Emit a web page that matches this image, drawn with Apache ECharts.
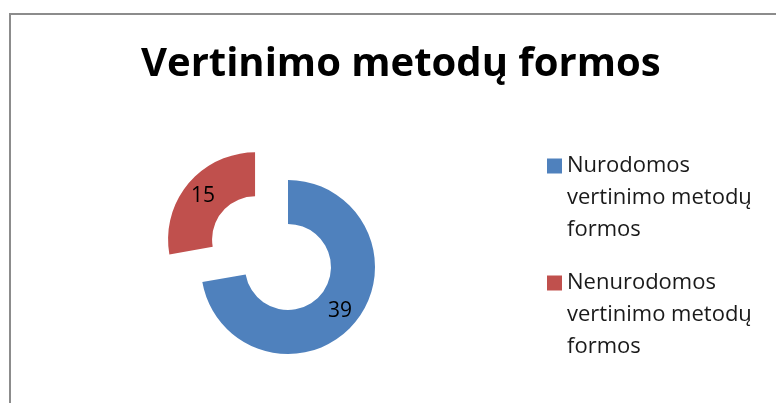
<!DOCTYPE html>
<html lang="lt">

<head>
    <meta charset="UTF-8">
    <title>Vertinimo metodų formos</title>
    <style>
        html,
        body,
        #chart {
            margin: 0;
            padding: 0;
            overflow: hidden;
            width: 100%;
            height: 100%;
            background: #fff;
        }
    </style>
</head>

<body>
    <div id="chart"></div>
    <script src="https://cdn.jsdelivr.net/npm/echarts@6/dist/echarts.min.js"></script>
    <script>
        var titleText = "Vertinimo metodų formos";
        var categories = ["Nurodomos vertinimo metodų formos", "Nenurodomos vertinimo metodų formos"];
        var values = [39, 15];
        var colors = ["#4F81BD", "#C0504D"];

        var font = "'Open Sans', sans-serif";

        var chart = echarts.init(document.getElementById('chart'));

        // legend text is split over 3 lines like in the original;
        // two blank lines in front keep the first line next to the icon
        function wrapName(name) {
            return '\n\n' + name.replace(' ', '\n').replace(' formos', '\nformos');
        }

        function makeLegend(name, top) {
            return {
                orient: 'vertical',
                left: 547,
                top: top,
                padding: 0,
                itemWidth: 15,
                itemHeight: 15,
                icon: 'rect',
                selectedMode: false,
                data: [name],
                formatter: wrapName,
                textStyle: {
                    fontFamily: font,
                    fontSize: 22,
                    lineHeight: 32,
                    color: '#1a1a1a'
                }
            };
        }

        chart.setOption({
            animation: false,
            title: {
                text: titleText,
                left: 141,
                top: 43,
                padding: 0,
                textStyle: {
                    fontFamily: font,
                    fontWeight: 'bold',
                    fontSize: 40,
                    lineHeight: 44,
                    color: '#000'
                }
            },
            legend: [makeLegend(categories[0], 86), makeLegend(categories[1], 203)],
            graphic: [{
                type: 'rect',
                silent: true,
                shape: { x: 10, y: 14, width: 900, height: 600 },
                style: { fill: 'none', stroke: '#8c8c8c', lineWidth: 2 }
            }],
            series: [{
                type: 'pie',
                center: [288, 267],
                radius: [43, 87],
                startAngle: 90,
                clockwise: true,
                selectedMode: 'single',
                selectedOffset: 43,
                avoidLabelOverlap: false,
                emphasis: { disabled: true },
                label: {
                    show: true,
                    position: 'inside',
                    formatter: '{c}',
                    fontFamily: font,
                    fontSize: 21,
                    color: '#000'
                },
                labelLine: { show: false },
                itemStyle: { borderWidth: 0 },
                data: categories.map(function (name, i) {
                    return {
                        name: name,
                        value: values[i],
                        selected: i === 1,
                        itemStyle: { color: colors[i] }
                    };
                })
            }]
        });
    </script>
</body>

</html>
